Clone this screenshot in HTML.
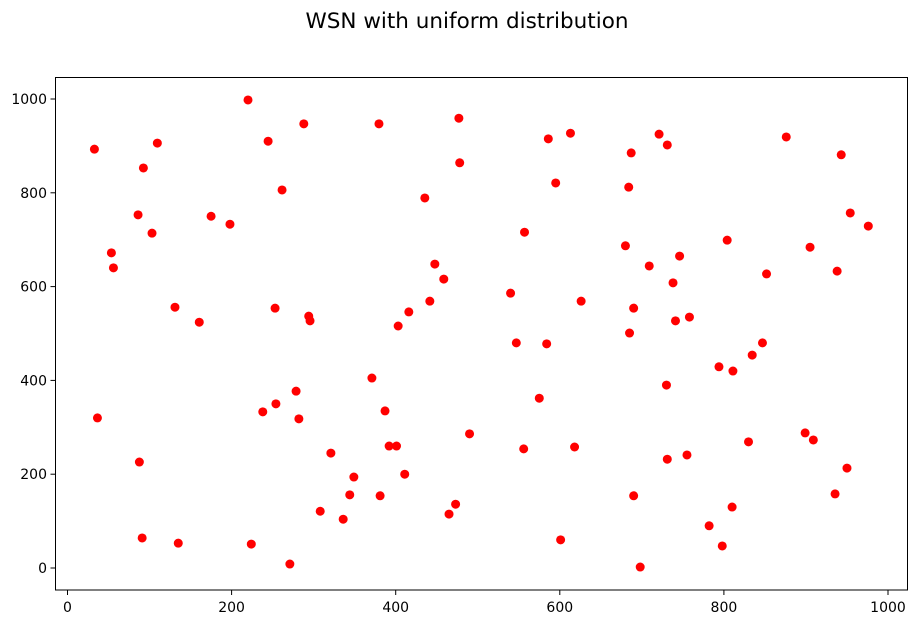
<!DOCTYPE html>
<html><head><meta charset="utf-8"><style>
body{margin:0;background:#fff;}
svg text{font-family:"DejaVu Sans","Liberation Sans",sans-serif;}
</style></head><body>
<svg id="chart" width="920" height="624" xmlns="http://www.w3.org/2000/svg">
<rect width="920" height="624" fill="#fff"/>
<text x="467" y="28" text-anchor="middle" font-size="21.5">WSN with uniform distribution</text>
<g id="marks"></g>
<rect x="55.5" y="77.5" width="852" height="512.5" fill="none" stroke="#000" stroke-width="1"/>
<g id="axes"></g>
</svg>
<script>
const xs=[32.8,36.5,87.6,91,53.5,56,92.5,109.5,86,103,131,160.6,135,175,198,220,244.5,261.5,288,253,294,295.6,238,254,278.6,282,224,271,321,308,336,349,344,381,371,387,392,401,411,379.6,403,416,435.5,441.6,447.7,458.6,477,478,490,473,465,540,547,557,586,595,613,584,575,556,626,618,601,698,690,721,731,687,684,680,709,690,685,730,731,738,746,741,758,755,782,798,810,804,794,811,834.5,847,852,830,876,905,943,954,976,938,899,909,950,935.5];
const ys=[893,320,226,64,672,640,853,906,753,714,556,524,53,750,733,998,910,806,947,554,537,527,333,350,377,318,51,8.5,245,121,104,194,156,154,405,335,260,260,200,947,516,546,789,569,648,616,959,864,286,136,115,586,480,716,915,821,927,478,362,254,569,258,60,2,154,925,902,885,812,687,644,554,501,390,232,608,665,527,535,241,90,47,130,699,429,420,454,480,627,269,919,684,881,757,729,633,288,273,213,158];
const xTicks=[0,200,400,600,800,1000];
const yTicks=[0,200,400,600,800,1000];
const X=v=>67.5+v*0.8205, Y=v=>568-v*0.469;
const NS="http://www.w3.org/2000/svg";
const m=document.getElementById('marks'), a=document.getElementById('axes');
xs.forEach((x,i)=>{const c=document.createElementNS(NS,'circle');
c.setAttribute('cx',X(x));c.setAttribute('cy',Y(ys[i]));c.setAttribute('r',4.5);c.setAttribute('fill','#ff0000');


m.appendChild(c);});
xTicks.forEach(t=>{const l=document.createElementNS(NS,'line');
l.setAttribute('x1',X(t));l.setAttribute('x2',X(t));l.setAttribute('y1',590);l.setAttribute('y2',595);l.setAttribute('stroke','#000');


a.appendChild(l);
const s=document.createElementNS(NS,'text');s.setAttribute('x',X(t));s.setAttribute('y',612);s.setAttribute('text-anchor','middle');s.setAttribute('font-size','14');s.textContent=t;


a.appendChild(s);});
yTicks.forEach(t=>{const l=document.createElementNS(NS,'line');
l.setAttribute('x1',50.5);l.setAttribute('x2',55.5);l.setAttribute('y1',Y(t));l.setAttribute('y2',Y(t));l.setAttribute('stroke','#000');


a.appendChild(l);
const s=document.createElementNS(NS,'text');s.setAttribute('x',47);s.setAttribute('y',Y(t)+5);s.setAttribute('text-anchor','end');s.setAttribute('font-size','14');s.textContent=t;


a.appendChild(s);});
</script>
</body></html>
